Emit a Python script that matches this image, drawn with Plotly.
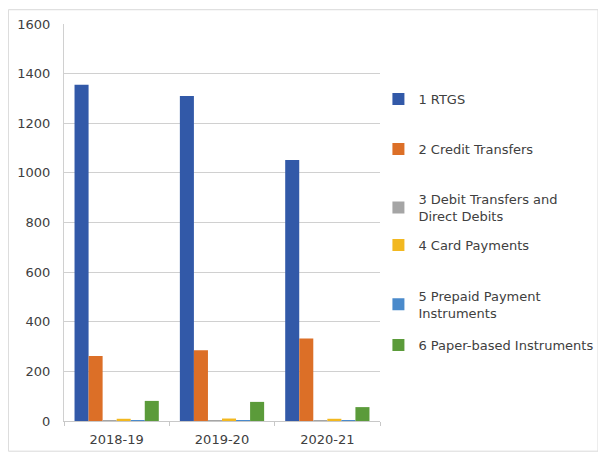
import plotly.graph_objects as go

# ==========================================================
# DATA
# ==========================================================

years = ["2018-19", "2019-20", "2020-21"]

rtgs = [1355, 1310, 1052]
credit_transfers = [262, 285, 332]
debit_transfers = [3, 3, 3]
card_payments = [9, 10, 9]
prepaid_instruments = [2, 2, 2]
paper_instruments = [81, 77, 56]

series_names = [
    "1 RTGS",
    "2 Credit Transfers",
    "3 Debit Transfers and<br>Direct Debits",
    "4 Card Payments",
    "5 Prepaid Payment<br>Instruments",
    "6 Paper-based Instruments",
]

colors = ["#3259A8", "#DC6F27", "#A5A5A5", "#F2B820", "#4A8ACB", "#5B9B3A"]

# ==========================================================
# CHART
# ==========================================================

fig = go.Figure()

all_series = [
    rtgs,
    credit_transfers,
    debit_transfers,
    card_payments,
    prepaid_instruments,
    paper_instruments,
]

# one legend box per series so the items can be spaced like the original
legend_ids = ["legend", "legend2", "legend3", "legend4", "legend5", "legend6"]
legend_tops = [0.849, 0.723, 0.597, 0.481, 0.353, 0.229]

for i, values in enumerate(all_series):

    fig.add_trace(
        go.Bar(
            x=years,
            y=values,
            name=series_names[i],
            marker=dict(color=colors[i], line=dict(width=0)),
            legend=legend_ids[i],
        )
    )

legend_style = {}

for i, lid in enumerate(legend_ids):

    legend_style[lid] = dict(
        x=0.995,
        y=legend_tops[i],
        xanchor="left",
        yanchor="top",
        font=dict(size=13, color="#404040"),
        itemwidth=30,
        bgcolor="rgba(0,0,0,0)",
    )

# page body adds 8px on the left and top, so the figure is a bit smaller
fig.update_layout(
    width=598,
    height=450,
    barmode="group",
    bargap=0.2,
    bargroupgap=0,
    plot_bgcolor="white",
    paper_bgcolor="white",
    font=dict(family="DejaVu Sans, sans-serif", size=13, color="#404040"),
    margin=dict(l=56, r=226, t=16, b=37, autoexpand=False),
    showlegend=True,
    **legend_style,
)

fig.update_yaxes(
    range=[0, 1600],
    dtick=200,
    showgrid=True,
    gridcolor="#D0D0D0",
    gridwidth=1,
    showline=True,
    linecolor="#D0D0D0",
    zeroline=False,
    ticks="",
    ticklabelstandoff=10,
)

fig.update_xaxes(
    showline=True,
    linecolor="#C8C8C8",
    ticks="outside",
    tickcolor="#C8C8C8",
    ticklen=4,
    tickson="boundaries",
    ticklabelstandoff=6,
    showgrid=False,
)

# outer border of the chart area
fig.add_shape(
    type="rect",
    xref="paper",
    yref="paper",
    x0=-0.176,
    x1=1.69,
    y0=-0.076,
    y1=1.036,
    line=dict(color="#D9D9D9", width=1),
)

fig.write_html("out.html")
